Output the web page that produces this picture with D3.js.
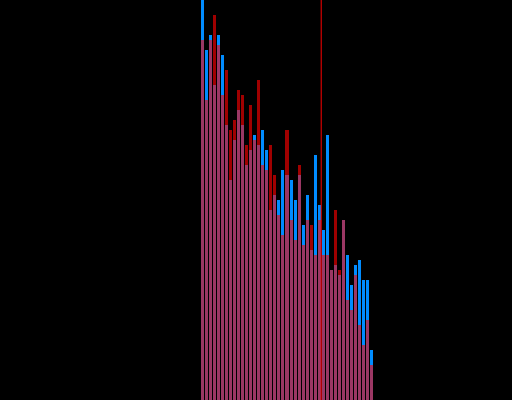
<!DOCTYPE html>
<html><head><meta charset="utf-8">
<script src="https://cdn.jsdelivr.net/npm/d3@7"></script>
<style>html,body{margin:0;padding:0;background:#000;overflow:hidden}</style>
</head><body>
<svg id="chart" width="512" height="400"></svg>
<script>
const categories = d3.range(43).map(i => "b" + i);
const blueValues = [400,350,365,315,365,345,275,220,260,290,275,235,250,265,255,270,250,190,205,200,230,225,220,200,225,175,205,150,245,195,170,265,130,135,125,180,145,115,135,140,120,120,50];
const redValues  = [360,300,360,385,355,305,330,270,280,310,305,255,295,260,320,235,230,255,225,185,165,270,180,160,235,155,180,175,145,180,145,145,130,190,130,180,100,90,125,75,55,80,35];
const markerCategory = "b30";

const colBlue = "rgb(0,140,255)", colRed = "rgb(160,0,0)", colBoth = "rgb(155,55,100)";
const svg = d3.select("#chart");
svg.append("rect").attr("width",512).attr("height",400).attr("fill","#000");

const x = d3.scaleBand().domain(categories).range([201, 373]).paddingInner(0.25).paddingOuter(0);
const y = d3.scaleLinear().domain([0, 400]).range([400, 0]);

const data = categories.map((c,i) => ({c, b: blueValues[i], r: redValues[i]}));
const g = svg.append("g").attr("shape-rendering", "crispEdges");
g.selectAll("rect.blue").data(data).join("rect")
  .attr("x", d => x(d.c)).attr("width", x.bandwidth())
  .attr("y", d => y(d.b)).attr("height", d => y(0) - y(d.b)).attr("fill", colBlue);
g.selectAll("rect.red").data(data).join("rect")
  .attr("x", d => x(d.c)).attr("width", x.bandwidth())
  .attr("y", d => y(d.r)).attr("height", d => y(0) - y(d.r)).attr("fill", colRed);
g.selectAll("rect.both").data(data).join("rect")
  .attr("x", d => x(d.c)).attr("width", x.bandwidth())
  .attr("y", d => y(Math.min(d.b, d.r))).attr("height", d => y(0) - y(Math.min(d.b, d.r))).attr("fill", colBoth);

const mx = x(markerCategory) - x.step() * x.paddingInner() / 2;
svg.append("line").attr("x1", mx).attr("x2", mx).attr("y1", y(400)).attr("y2", y(0))
  .attr("stroke", "rgb(255,0,0)").attr("stroke-width", 1);
</script>
</body></html>
